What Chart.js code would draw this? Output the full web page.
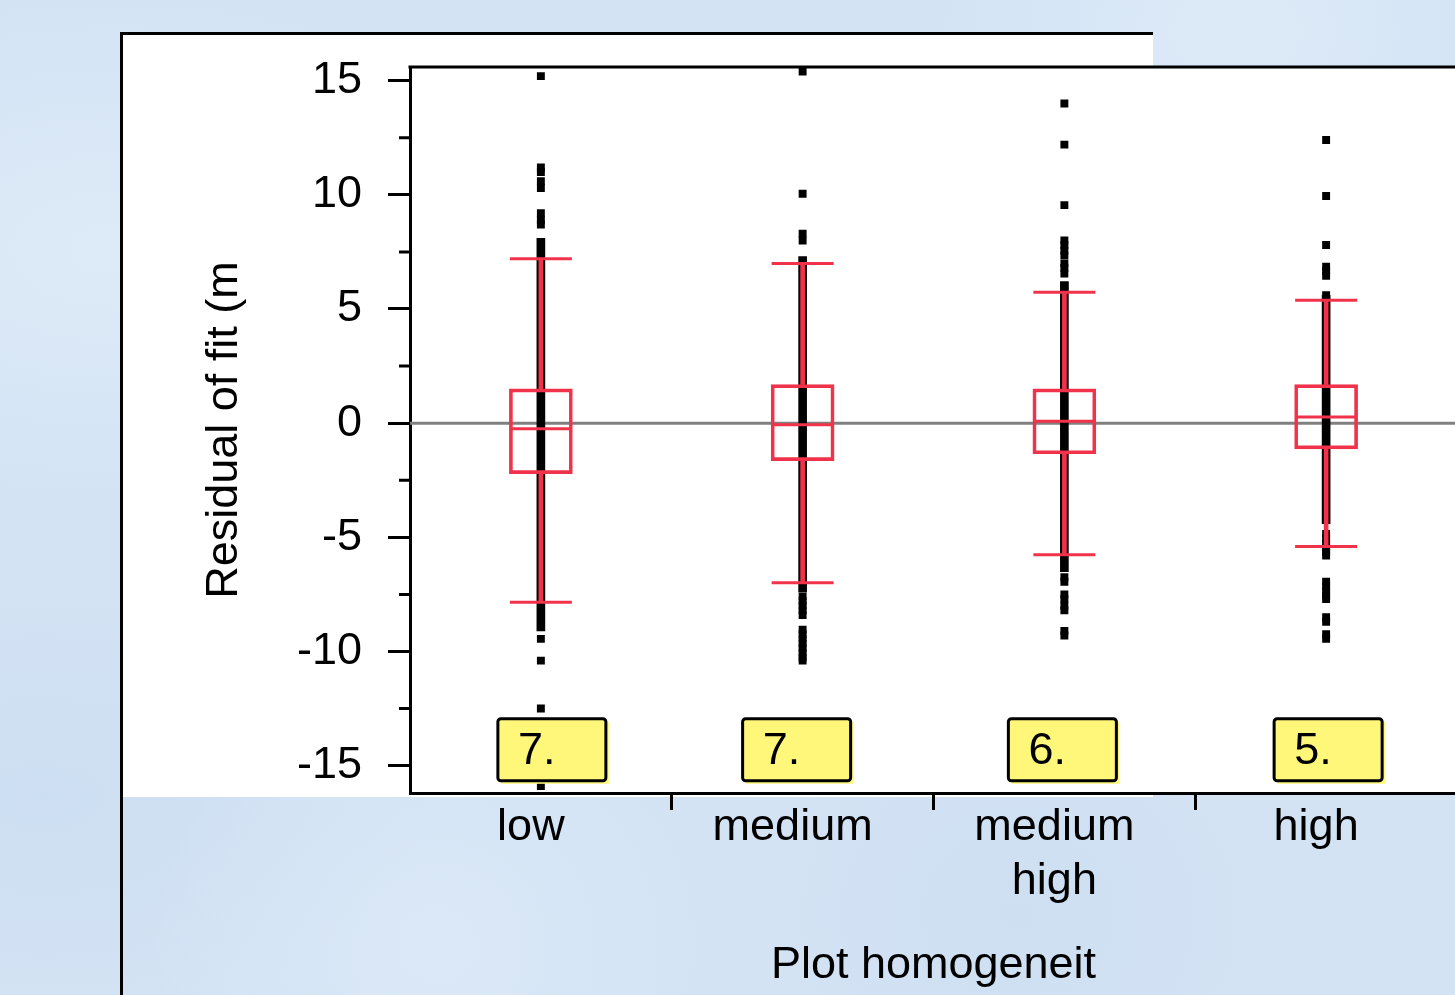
<!DOCTYPE html>
<html lang="en">
  <head>
    <meta charset="UTF-8" />
    <title>Residual of fit by plot homogeneity</title>
    <script src="https://cdn.jsdelivr.net/npm/chart.js"></script>
    <style>
      html,
      body {
        margin: 0;
        padding: 0;
        width: 1455px;
        height: 995px;
        overflow: hidden;
      }
      body {
        position: relative;
        font-family: "Liberation Sans", Arial, sans-serif;
        background-color: #d3e3f4;
        background-image: radial-gradient(ellipse at 8% 25%, rgba(232, 242, 252, 0.5) 0, transparent 25%),
          radial-gradient(ellipse at 30% 95%, rgba(228, 239, 251, 0.45) 0, transparent 20%),
          radial-gradient(ellipse at 85% 3%, rgba(230, 241, 252, 0.5) 0, transparent 18%),
          radial-gradient(ellipse at 70% 92%, rgba(200, 218, 240, 0.45) 0, transparent 18%),
          radial-gradient(ellipse at 3% 80%, rgba(198, 217, 239, 0.45) 0, transparent 20%);
      }
      .panel {
        position: absolute;
        left: 120px;
        top: 32px;
        width: 1033px;
        height: 765px;
        background: #ffffff;
        border-top: 3px solid #000;
        box-sizing: border-box;
      }
      .panel-edge {
        position: absolute;
        left: 120px;
        top: 32px;
        width: 3px;
        height: 963px;
        background: #000;
      }
      #chart {
        position: absolute;
        left: 0;
        top: 0;
      }
    </style>
  </head>
  <body>
    <div class="panel"></div>
    <div class="panel-edge"></div>
    <canvas id="chart" width="1491" height="995"></canvas>

    <script>
      // data
      const categories = ["low", "medium", "medium high", "high"];
      const whiskerLow = [-7.85, -6.99, -5.76, -5.4];
      const q1 = [-2.21, -1.64, -1.34, -1.13];
      const medians = [-0.25, -0.07, 0.08, 0.27];
      const q3 = [1.5, 1.69, 1.5, 1.69];
      const whiskerHigh = [7.2, 6.99, 5.73, 5.38];
      // range where the residual points merge into a solid column
      const denseLow = [-9.1, -7.4, -6.5, -4.4];
      const denseHigh = [8.1, 7.3, 6.2, 5.6];
      const outliersLow = [15.2, 11.2, 11.0, 10.6, 10.3, 9.2, 8.9, 8.7, -9.45, -10.4, -12.5, -15.9];
      const outliersMedium = [15.4, 10.05, 8.3, 8.0, -7.6, -7.8, -8.0, -8.2, -8.4, -9.05, -9.25, -9.45, -9.65, -9.85, -10.05, -10.25, -10.4];
      const outliersMediumHigh = [14.0, 12.2, 9.55, 8.0, 7.8, 7.55, 7.35, 7.0, 6.8, 6.55, 6.0, -6.75, -6.95, -7.5, -7.7, -8.0, -8.2, -9.1, -9.3];
      const outliersHigh = [12.4, 9.95, 7.8, 6.85, 6.65, 6.45, 5.6, -4.85, -5.05, -5.25, -5.45, -5.65, -5.8, -6.95, -7.15, -7.35, -7.55, -7.7, -8.5, -8.7, -9.25, -9.45];
      const boxLabels = ["7.", "7.", "6.", "5."];
      const yTicks = [-15, -10, -5, 0, 5, 10, 15];
      const yMinorTicks = [-12.5, -7.5, -2.5, 2.5, 7.5, 12.5];

      const red = "#f0334b";
      const font = { family: "'Liberation Sans', Arial, sans-serif", size: 45 };

      const outlierPoints = [outliersLow, outliersMedium, outliersMediumHigh, outliersHigh].flatMap(
        (list, i) => list.map((y) => ({ x: categories[i], y: y }))
      );
      const toPoints = (arr) => arr.map((y, i) => ({ x: categories[i], y: y }));

      const decorPlugin = {
        id: "decor",
        beforeDraw(chart) {
          const { ctx, chartArea: a } = chart;
          ctx.save();
          ctx.fillStyle = "#ffffff";
          ctx.fillRect(a.left, a.top, a.right - a.left, a.bottom - a.top);
          ctx.restore();
        },
        beforeDatasetsDraw(chart) {
          const { ctx, chartArea: a, scales } = chart;
          const y0 = scales.y.getPixelForValue(0);
          ctx.save();
          ctx.strokeStyle = "#808080";
          ctx.lineWidth = 3;
          ctx.beginPath();
          ctx.moveTo(a.left, y0);
          ctx.lineTo(a.right, y0);
          ctx.stroke();
          ctx.restore();
        },
        afterDraw(chart) {
          const { ctx, chartArea: a, scales } = chart;
          ctx.save();
          // top frame line
          ctx.strokeStyle = "#000";
          ctx.lineWidth = 3;
          ctx.beginPath();
          ctx.moveTo(a.left - 1.5, a.top);
          ctx.lineTo(a.right, a.top);
          ctx.stroke();
          // minor ticks
          ctx.beginPath();
          yMinorTicks.forEach((v) => {
            const y = scales.y.getPixelForValue(v);
            ctx.moveTo(a.left - 11, y);
            ctx.lineTo(a.left, y);
          });
          ctx.stroke();

          // yellow count boxes
          const shift = [11, -6, -2, 2];
          const top = scales.y.getPixelForValue(-12.95);
          const w = 108;
          const h = 62;
          boxLabels.forEach((txt, i) => {
            const left = scales.x.getPixelForValue(i) + shift[i] - w / 2;
            ctx.fillStyle = "#fff77a";
            ctx.fillRect(left + 3, top + 3, w, h);
            ctx.beginPath();
            ctx.roundRect(left, top, w, h, 3);
            ctx.fill();
            ctx.lineWidth = 3;
            ctx.strokeStyle = "#000";
            ctx.stroke();
            ctx.fillStyle = "#000";
            ctx.font = "45px 'Liberation Sans', Arial, sans-serif";
            ctx.textBaseline = "middle";
            ctx.textAlign = "left";
            ctx.fillText(txt, left + 20, top + h / 2 + 2);
          });
          ctx.restore();
        },
      };

      new Chart(document.getElementById("chart"), {
        type: "bar",
        data: {
          labels: categories,
          datasets: [
            {
              type: "line",
              label: "caps",
              data: toPoints(whiskerHigh).concat(toPoints(whiskerLow)),
              showLine: false,
              pointStyle: "line",
              pointRadius: 31,
              pointBorderColor: red,
              pointBorderWidth: 3,
              order: 0,
            },
            {
              type: "line",
              label: "median",
              data: toPoints(medians),
              showLine: false,
              pointStyle: "line",
              pointRadius: 31,
              pointBorderColor: red,
              pointBorderWidth: 3,
              order: 0,
            },
            {
              label: "box",
              data: q1.map((v, i) => [v, q3[i]]),
              backgroundColor: "rgba(0,0,0,0)",
              borderColor: red,
              borderWidth: 3,
              borderSkipped: false,
              barThickness: 63,
              grouped: false,
              order: 1,
            },
            {
              label: "upper whisker",
              data: q3.map((v, i) => [v, whiskerHigh[i]]),
              backgroundColor: red,
              barThickness: 4,
              grouped: false,
              order: 2,
            },
            {
              label: "lower whisker",
              data: whiskerLow.map((v, i) => [v, q1[i]]),
              backgroundColor: red,
              barThickness: 4,
              grouped: false,
              order: 2,
            },
            {
              type: "line",
              label: "points",
              data: outlierPoints,
              showLine: false,
              pointStyle: "rect",
              pointRadius: 5.6,
              pointBackgroundColor: "#000",
              pointBorderWidth: 0,
              order: 3,
            },
            {
              label: "dense points",
              data: denseLow.map((v, i) => [v, denseHigh[i]]),
              backgroundColor: "#000",
              barThickness: 8,
              grouped: false,
              order: 4,
            },
          ],
        },
        options: {
          responsive: false,
          animation: false,
          layout: { padding: { top: 67, right: 5, left: 0, bottom: 0 } },
          plugins: { legend: { display: false }, tooltip: { enabled: false } },
          scales: {
            x: {
              offset: true,
              afterFit: (s) => {
                s.height = 202;
              },
              grid: {
                offset: true,
                drawOnChartArea: false,
                tickLength: 17,
                tickWidth: 3,
                tickColor: (ctx) => (ctx.index === 0 ? "rgba(0,0,0,0)" : "#000"),
              },
              border: { display: true, width: 3, color: "#000" },
              ticks: {
                font: font,
                color: "#000",
                padding: -9,
                labelOffset: -10,
                maxRotation: 0,
                autoSkip: false,
                callback: function (value) {
                  const l = this.getLabelForValue(value);
                  return l.includes(" ") ? l.split(" ") : l;
                },
              },
              title: {
                display: true,
                text: "Plot homogeneit",
                font: font,
                color: "#000",
                padding: { top: 2, bottom: 2 },
              },
            },
            y: {
              type: "linear",
              min: -16.2,
              max: 15.6,
              afterBuildTicks: (s) => {
                s.ticks = yTicks.map((v) => ({ value: v }));
              },
              afterFit: (s) => {
                s.width = 410;
              },
              grid: {
                drawOnChartArea: false,
                tickLength: 22,
                tickWidth: 3,
                tickColor: "#000",
              },
              border: { display: true, width: 3, color: "#000" },
              ticks: { font: font, color: "#000", padding: 26 },
              title: {
                display: true,
                text: "Residual of fit (m",
                font: font,
                color: "#000",
                padding: { top: 198, bottom: 198 },
              },
            },
          },
        },
        plugins: [decorPlugin],
      });
    </script>
  </body>
</html>
